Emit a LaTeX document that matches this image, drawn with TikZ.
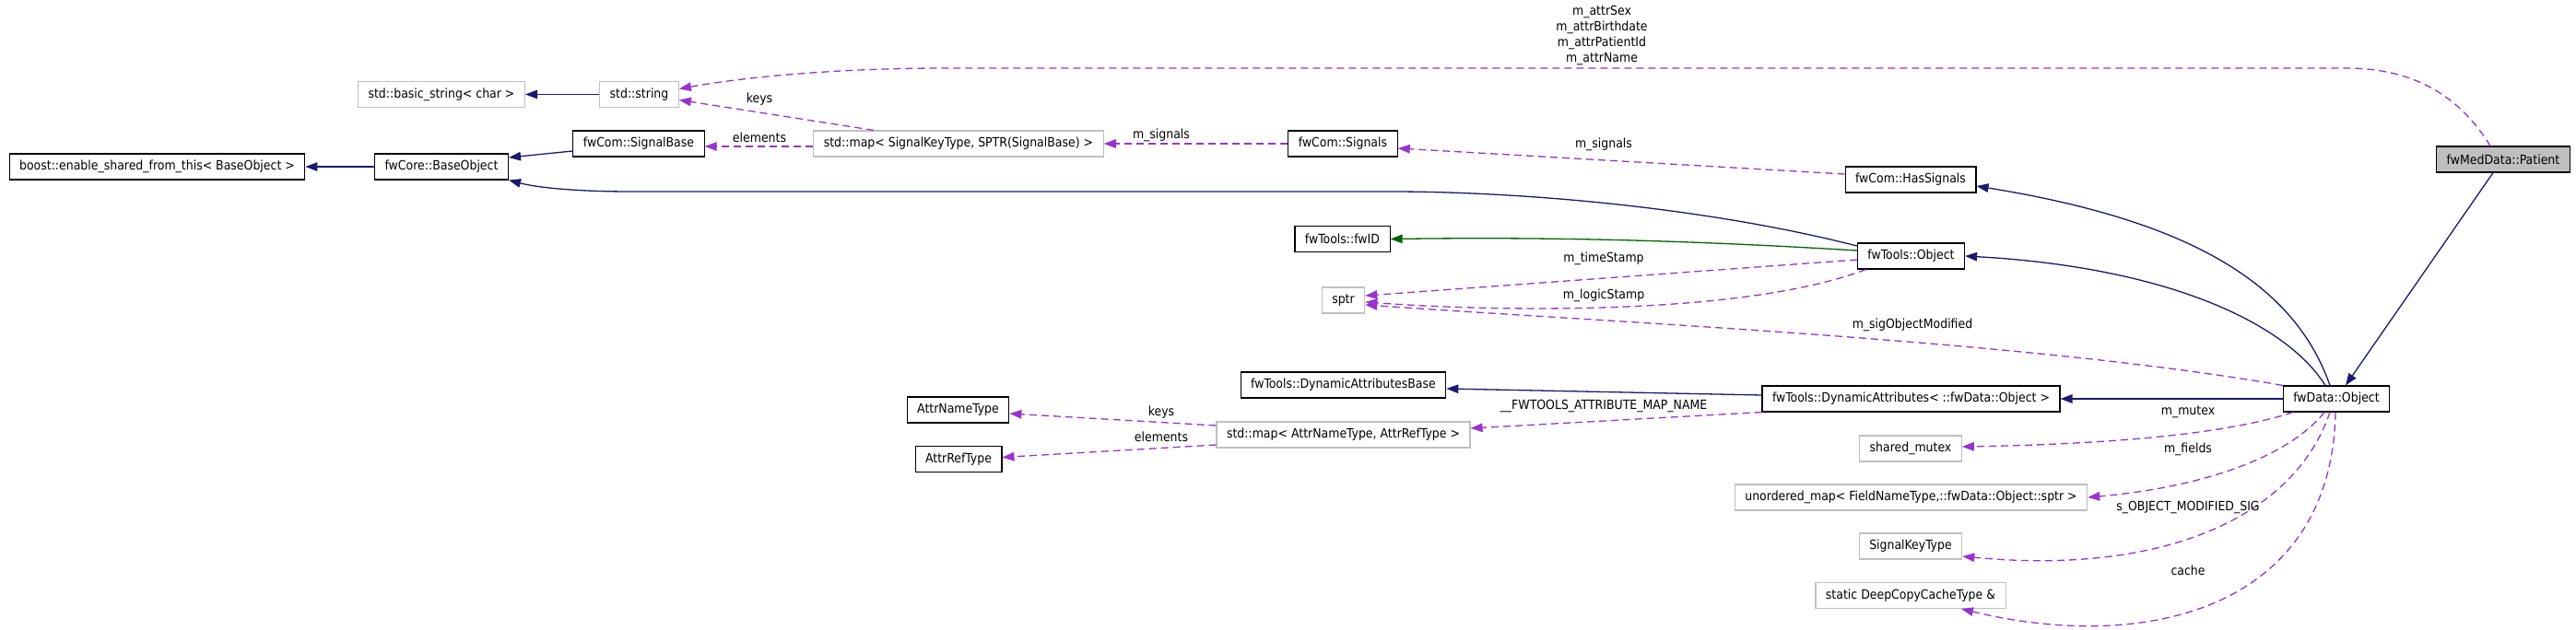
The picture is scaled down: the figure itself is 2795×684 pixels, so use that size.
\documentclass[tikz,border=0pt]{standalone}
\usepackage{fontspec}
\setmainfont{DejaVu Sans Condensed}
\usetikzlibrary{arrows.meta}
\definecolor{paper}{HTML}{FFFFFF}
\definecolor{inhblue}{HTML}{191970}
\definecolor{usepurple}{HTML}{9A32CD}
\definecolor{tplgreen}{HTML}{006400}
\definecolor{extgray}{HTML}{BFBFBF}
\definecolor{focusfill}{HTML}{BFBFBF}
\newcommand{\classfont}{\fontsize{13.9}{17}\selectfont}
\tikzset{
  cls/.style={draw=black,fill=paper,line width=1.1pt,minimum height=28pt,
              inner xsep=11pt,inner ysep=0pt,font=\classfont},
  ext/.style={cls,draw=extgray},
  focus/.style={cls,fill=focusfill},
  inhedge/.style={draw=inhblue,line width=1.3pt,-{Triangle[length=13pt,width=9.5pt]}},
  usedge/.style={draw=usepurple,line width=1.3pt,dash pattern=on 8pt off 5pt,
                 -{Triangle[length=13pt,width=9.5pt]}},
  tpledge/.style={draw=tplgreen,line width=1.3pt,-{Triangle[length=13pt,width=9.5pt]}},
  elabel/.style={font=\classfont,inner sep=0pt,align=center}
}

\begin{document}
\begin{tikzpicture}[x=1pt,y=-1pt]
  \useasboundingbox (0,0) rectangle (2795,684);
  \fill[paper] (0,0) rectangle (2795,684);

  % ======================== CLASSES ========================
  \node[ext] (basicstr) at (479,102.5) {std::basic\_string< char >};
  \node[ext] (stdstring) at (693.5,102.5) {std::string};
  \node[cls] (sigbase) at (693,156) {fwCom::SignalBase};
  \node[cls] (boost) at (170.5,181) {boost::enable\_shared\_from\_this< BaseObject >};
  \node[cls] (baseobj) at (479,181) {fwCore::BaseObject};
  \node[ext] (sigmap) at (1040,156) {std::map< SignalKeyType, SPTR(SignalBase) >};
  \node[cls] (signals) at (1457,156) {fwCom::Signals};
  \node[cls] (hassig) at (2073,195) {fwCom::HasSignals};
  \node[focus] (patient) at (2716,173) {fwMedData::Patient};

  \node[cls] (fwid) at (1456.5,259.5) {fwTools::fwID};
  \node[cls] (toolsobj) at (2073.5,278) {fwTools::Object};
  \node[ext] (sptr) at (1457.5,326) {sptr};

  \node[cls] (dynbase) at (1457.5,418) {fwTools::DynamicAttributesBase};
  \node[cls] (dynattr) at (2073.5,433) {fwTools::DynamicAttributes< ::fwData::Object >};
  \node[cls] (dataobj) at (2535,433) {fwData::Object};
  \node[cls] (attrname) at (1039.5,445) {AttrNameType};
  \node[cls] (attrref) at (1040,498.5) {AttrRefType};
  \node[ext] (attrmap) at (1457.5,472) {std::map< AttrNameType, AttrRefType >};

  \node[ext] (mutex) at (2073,487) {shared\_mutex};
  \node[ext] (umap) at (2073.5,540) {unordered\_map< FieldNameType,::fwData::Object::sptr >};
  \node[ext] (sigkey) at (2073,593) {SignalKeyType};
  \node[ext] (cache) at (2073,646.5) {static DeepCopyCacheType \&};

  % ======================== INHERITANCE ========================
  \draw[inhedge] (stdstring.west) -- (basicstr.east);
  \draw[inhedge] ([yshift=-8pt]sigbase.west) -- ([yshift=10pt]baseobj.east);
  \draw[inhedge] (baseobj.west) -- (boost.east);
  \draw[inhedge] ([yshift=11pt]toolsobj.west)
    .. controls (1850,225) and (1650,208) .. (1509,208) -- (685,208)
    .. controls (620,208) and (580,203) .. (baseobj.south east);
  \draw[inhedge] ([xshift=-7pt]dataobj.north)
    .. controls (2490,310) and (2380,240) .. ([yshift=-7pt]hassig.east);
  \draw[inhedge] ([xshift=-12pt]dataobj.north)
    .. controls (2480,350) and (2350,290) .. (toolsobj.east);
  \draw[inhedge] ([xshift=-11pt]patient.south) -- ([xshift=10pt]dataobj.north);
  \draw[inhedge] ([yshift=4pt]dynattr.west) -- ([yshift=-4pt]dynbase.east);
  \draw[inhedge] (dataobj.west) -- (dynattr.east);

  % template instance
  \draw[tpledge] ([yshift=6pt]toolsobj.west)
    .. controls (1850,262) and (1700,257) .. (fwid.east);

  % ======================== MEMBERS ========================
  \draw[usedge] ([yshift=-3pt]sigmap.west) -- ([yshift=-3pt]sigbase.east);
  \draw[usedge] ([xshift=-92pt]sigmap.north) -- ([yshift=-6pt]stdstring.east);
  \draw[usedge] (signals.west) -- (sigmap.east);
  \draw[usedge] ([yshift=6pt]hassig.west) -- ([yshift=-5pt]signals.east);
  \draw[usedge] ([xshift=-14pt]patient.north)
    .. controls (2660,90) and (2600,74) .. (2545,74) -- (1025,74)
    .. controls (900,74) and (800,85) .. ([yshift=6pt]stdstring.east);

  \draw[usedge] ([yshift=-4pt]toolsobj.west) -- ([yshift=5pt]sptr.east);
  \draw[usedge] ([xshift=-49pt]toolsobj.south)
    .. controls (1900,340) and (1650,340) .. ([yshift=-2pt]sptr.east);
  \draw[usedge] (dataobj.north west)
    .. controls (2200,370) and (1750,350) .. ([yshift=-5pt]sptr.east);

  \draw[usedge] (dynattr.south west) -- ([yshift=7pt]attrmap.east);
  \draw[usedge] ([yshift=10pt]attrmap.west) -- ([yshift=-4pt]attrname.east);
  \draw[usedge] ([yshift=-11pt]attrmap.west) -- ([yshift=2pt]attrref.east);

  \draw[usedge] ([xshift=-47pt]dataobj.south)
    .. controls (2420,470) and (2300,482) .. ([yshift=2pt]mutex.east);
  \draw[usedge] ([xshift=-13pt]dataobj.south)
    .. controls (2480,500) and (2380,530) .. (umap.east);
  \draw[usedge] ([xshift=-7pt]dataobj.south)
    .. controls (2490,560) and (2350,625) .. ([yshift=-11pt]sigkey.east);
  \draw[usedge] ([xshift=-1pt]dataobj.south)
    .. controls (2530,660) and (2330,710) .. ([xshift=55pt]cache.south);

  % ======================== EDGE LABELS ========================
  \node[elabel] (lblattr) at (1738,38.5)
    {m\_attrSex\\m\_attrBirthdate\\m\_attrPatientId\\m\_attrName};
  \node[elabel] (lblkeys) at (824,108) {keys};
  \node[elabel] (lblelem) at (824,149) {elements};
  \node[elabel] (lblsigs) at (1260,147) {m\_signals};
  \node[elabel] (lblhsig) at (1740,157) {m\_signals};
  \node[elabel] (lbltime) at (1740,281) {m\_timeStamp};
  \node[elabel] (lbllogic) at (1740,321) {m\_logicStamp};
  \node[elabel] (lblsigmod) at (2075,353) {m\_sigObjectModified};
  \node[elabel] (lblmapname) at (1740,441) {\_\_FWTOOLS\_ATTRIBUTE\_MAP\_NAME};
  \node[elabel] (lblakeys) at (1260,448) {keys};
  \node[elabel] (lblaelem) at (1260,474) {elements};
  \node[elabel] (lblmutex) at (2374,447) {m\_mutex};
  \node[elabel] (lblfields) at (2374,488) {m\_fields};
  \node[elabel] (lblsig) at (2374,551) {s\_OBJECT\_MODIFIED\_SIG};
  \node[elabel] (lblcache) at (2374,619) {cache};
\end{tikzpicture}
\end{document}
